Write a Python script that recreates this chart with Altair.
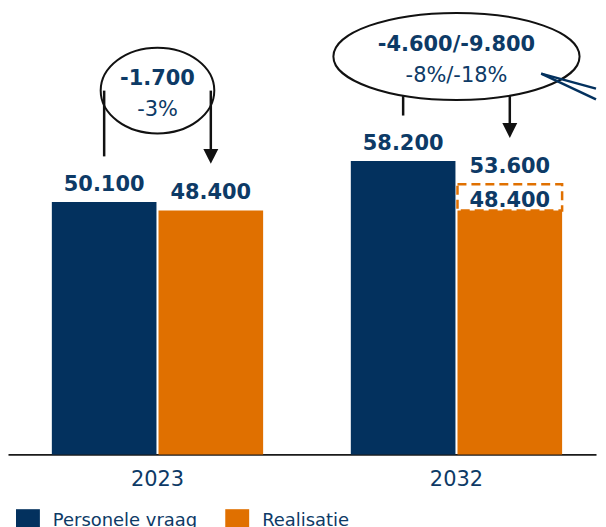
import altair as alt
import pandas as pd

# ---- data ----
years = ["2023", "2032"]
series = ["Personele vraag", "Realisatie"]
vraag = [50100, 58200]
realisatie = [48400, 48400]
realisatie_high_2032 = 53600
diff_text = ["-1.700", "-4.600/-9.800"]
pct_text = ["-3%", "-8%/-18%"]

# ---- styling ----
NAVY = "#03315E"
ORANGE = "#E07000"
TEXT = "#0D3A66"
FONT = "DejaVu Sans"


def nl(v):
    return f"{v:,}".replace(",", ".")


bars = pd.DataFrame({
    "year": years * 2,
    "series": [series[0]] * 2 + [series[1]] * 2,
    "value": vraag + realisatie,
})

top_labels = pd.DataFrame({
    "year": years * 2,
    "series": [series[0]] * 2 + [series[1]] * 2,
    "value": vraag + [realisatie[0], realisatie_high_2032],
})
top_labels["label"] = top_labels["value"].map(nl)

inner_label = pd.DataFrame({"year": [years[1]], "series": [series[1]],
                            "value": [realisatie[1]], "label": [nl(realisatie[1])]})

dashed = pd.DataFrame({"year": [years[1]], "series": [series[1]],
                       "low": [realisatie[1]], "high": [realisatie_high_2032]})


def ellipse_path(r):
    k = 0.5523
    return (f"M 1 0 C 1 {k*r:.4f} {k} {r:.4f} 0 {r:.4f} "
            f"C {-k} {r:.4f} -1 {k*r:.4f} -1 0 "
            f"C -1 {-k*r:.4f} {-k} {-r:.4f} 0 {-r:.4f} "
            f"C {k} {-r:.4f} 1 {-k*r:.4f} 1 0 Z")


# annotation layout (pixels within the plot area)
ell = pd.DataFrame({
    "year": years,
    "cy": [80, 45.7],
    "size": [(2 * 57) ** 2, (2 * 123.5) ** 2],
    "shape": [ellipse_path(43 / 57), ellipse_path(43.7 / 123.5)],
    "diff": diff_text,
    "pct": pct_text,
    "ty1": [74, 40.3],
    "ty2": [105, 71],
})

conn = pd.DataFrame({
    "year": [years[0], years[0], years[1], years[1]],
    "series": [series[0], series[1], series[0], series[1]],
    "y1": [80, 80, 85.5, 85.5],
    "y2": [146, 141, 105, 115],
})

heads = pd.DataFrame({"year": years, "series": [series[1]] * 2, "cy": [146, 120]})

X = alt.X("year:N", sort=years,
          scale=alt.Scale(domain=years, paddingInner=0.2933, paddingOuter=0.13,
                          align=0.564),
          axis=alt.Axis(title=None, labelAngle=0, ticks=False, domainColor="#1a1a1a",
                        domainWidth=2, labelFont=FONT, labelFontSize=21,
                        labelColor=TEXT, labelPadding=14))
XO = alt.XOffset("series:N", sort=series,
                 scale=alt.Scale(domain=series, paddingInner=0.019, paddingOuter=0))
YS = alt.Scale(domain=[0, 88000], nice=False, zero=True)

bar_layer = alt.Chart(bars).mark_bar().encode(
    x=X, xOffset=XO,
    y=alt.Y("value:Q", scale=YS, axis=None),
    color=alt.Color("series:N", sort=series,
                    scale=alt.Scale(domain=series, range=[NAVY, ORANGE]),
                    legend=alt.Legend(title=None, orient="none", legendX=8, legendY=500,
                                      direction="horizontal", symbolType="square",
                                      symbolSize=576, symbolStrokeWidth=0,
                                      labelFont=FONT, labelFontSize=18, labelColor=TEXT,
                                      labelOffset=13, columnPadding=28, padding=0)),
)

dash_layer = alt.Chart(dashed).mark_bar(
    fillOpacity=0, stroke=ORANGE, strokeWidth=2.5, strokeDash=[9, 5]
).encode(x=X, xOffset=XO, y=alt.Y("low:Q", scale=YS, axis=None), y2="high:Q")

label_layer = alt.Chart(top_labels).mark_text(
    dy=-11, fontSize=21, fontWeight="bold", font=FONT, color=TEXT, baseline="alphabetic"
).encode(x=X, xOffset=XO, y=alt.Y("value:Q", scale=YS, axis=None), text="label:N")

inner_layer = alt.Chart(inner_label).mark_text(
    dy=-3, fontSize=21, fontWeight="bold", font=FONT, color=TEXT, baseline="alphabetic"
).encode(x=X, xOffset=XO, y=alt.Y("value:Q", scale=YS, axis=None), text="label:N")

ell_layer = alt.Chart(ell).mark_point(filled=False, stroke="#111111", strokeWidth=2,
                                      opacity=1).encode(
    x=X,
    y=alt.Y("cy:Q", scale=None, axis=None),
    shape=alt.Shape("shape:N", scale=None),
    size=alt.Size("size:Q", scale=None),
)

diff_layer = alt.Chart(ell).mark_text(
    fontSize=21, fontWeight="bold", font=FONT, color=TEXT, baseline="alphabetic"
).encode(x=X, y=alt.Y("ty1:Q", scale=None, axis=None), text="diff:N")

pct_layer = alt.Chart(ell).mark_text(
    fontSize=21, font=FONT, color=TEXT, baseline="alphabetic"
).encode(x=X, y=alt.Y("ty2:Q", scale=None, axis=None), text="pct:N")

conn_layer = alt.Chart(conn).mark_rule(color="#111111", strokeWidth=2.5).encode(
    x=X, xOffset=XO,
    y=alt.Y("y1:Q", scale=None, axis=None),
    y2="y2:Q",
)

head_layer = alt.Chart(heads).mark_point(
    shape="M -1 -1 L 1 -1 L 0 1 Z", filled=True, fill="#111111", size=225,
    strokeWidth=0, opacity=1
).encode(x=X, xOffset=XO, y=alt.Y("cy:Q", scale=None, axis=None))

one = pd.DataFrame({"k": [0]})
call1 = alt.Chart(one).mark_rule(color=NAVY, strokeWidth=2.5).encode(
    x=alt.value(535), x2=alt.value(590), y=alt.value(63), y2=alt.value(78))
call2 = alt.Chart(one).mark_rule(color=NAVY, strokeWidth=2.5).encode(
    x=alt.value(535), x2=alt.value(590), y=alt.value(63), y2=alt.value(88.7))

chart = alt.layer(
    bar_layer, dash_layer, label_layer, inner_layer, ell_layer, diff_layer, pct_layer,
    conn_layer, head_layer, call1, call2
).properties(width=590, height=445, padding=0).configure_view(stroke=None)

chart.save("out.html", embed_options={"renderer": "svg", "actions": False})
